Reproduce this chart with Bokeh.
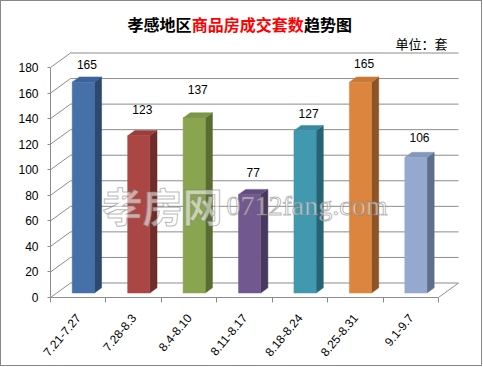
from math import pi
from bokeh.plotting import figure
from bokeh.models import Range1d, FixedTicker, LinearAxis
from bokeh.core.properties import value
from bokeh.embed import file_html
from bokeh.resources import INLINE

# ---------------- data ----------------
periods = ["7.21-7.27", "7.28-8.3", "8.4-8.10", "8.11-8.17", "8.18-8.24", "8.25-8.31", "9.1-9.7"]
deals = [165, 123, 137, 77, 127, 165, 106]
y_ticks = [0, 20, 40, 60, 80, 100, 120, 140, 160, 180]
title_parts = ["孝感地区", "商品房成交套数", "趋势图"]
unit_text = "单位：套"

# ---------------- styling / layout ----------------
front_colors = ["#4570A8", "#AA4744", "#8AA550", "#71588F", "#4199B0", "#DB853E", "#95A9D0"]
side_colors = ["#2C486C", "#6E2C2A", "#596C32", "#48385E", "#286373", "#8E5427", "#5F6E8A"]
top_colors = ["#3C639A", "#9A3E3B", "#7C9647", "#644E80", "#398AA0", "#C97936", "#8497BD"]
label_rise = [17, 24, 26, 21, 17, 18, 19]   # label placement above bar (value units)

PX_CAT = 55.43          # pixels per category
PX_VAL = 230.0 / 180.0  # pixels per value unit
DEPTH_X = 20.0 / PX_CAT  # 3D depth offset, category units
DEPTH_Y = 14.5 / PX_VAL  # 3D depth offset, value units
BAR_HALF = 0.2
BAR_SHIFT = -0.02
D1, D2 = 0.31, 0.67
GRID = "#8C8C8C"

OFF = 1                 # figure offset inside the page (room for the outer border)
W, H = 480, 364
ORIGIN_X, ORIGIN_Y = 50, 297   # page pixel of the front axes corner
LEFT = ORIGIN_X - OFF
BOTTOM = OFF + H - ORIGIN_Y
n = len(periods)
x0 = 0.5
x_end = x0 + (W - LEFT) / PX_CAT
y_end = (ORIGIN_Y - OFF) / PX_VAL

def px_x(px):
    return x0 + (px - ORIGIN_X) / PX_CAT

def px_y(py):
    return (ORIGIN_Y - py) / PX_VAL

p = figure(width=W, height=H, output_backend="svg", toolbar_location=None,
           x_range=Range1d(x0, x_end), y_range=Range1d(0, y_end),
           min_border_left=LEFT, min_border_right=0, min_border_top=0,
           min_border_bottom=BOTTOM, x_axis_location=None, y_axis_location=None)
p.outline_line_color = None
p.xgrid.visible = False
p.ygrid.visible = False
p.background_fill_color = "white"
p.border_fill_color = "white"
p.margin = (OFF, 0, 0, OFF)
p.styles = {"outline": "1px solid #888888", "outline-offset": "0px"}

# ---------------- walls / grid ----------------
xl, xr = x0, x0 + n
gx, gy = [], []
for t in y_ticks:
    gx.append([xl, xl + DEPTH_X, xr + DEPTH_X])
    gy.append([t, t + DEPTH_Y, t + DEPTH_Y])
gx.append([xr, xr + DEPTH_X])
gy.append([0, DEPTH_Y])
p.multi_line(gx, gy, line_color=GRID, line_width=1)

# ---------------- bars ----------------
fx, fy, sx, sy, tx, ty = [], [], [], [], [], []
for i, v in enumerate(deals):
    c = i + 1 + BAR_SHIFT
    a, b = c - BAR_HALF, c + BAR_HALF
    a1, b1, b2, a2 = a + D1 * DEPTH_X, b + D1 * DEPTH_X, b + D2 * DEPTH_X, a + D2 * DEPTH_X
    y1, y2 = D1 * DEPTH_Y, D2 * DEPTH_Y
    fx.append([a1, b1, b1, a1]); fy.append([y1, y1, v + y1, v + y1])
    sx.append([b1, b2, b2, b1]); sy.append([y1, y2, v + y2, v + y1])
    tx.append([a1, b1, b2, a2]); ty.append([v + y1, v + y1, v + y2, v + y2])
p.patches(sx, sy, fill_color=side_colors, line_color=side_colors, line_width=0.5)
p.patches(tx, ty, fill_color=top_colors, line_color=top_colors, line_width=0.5)
p.patches(fx, fy, fill_color=front_colors, line_color=front_colors, line_width=0.5)

# data labels
lx = [i + 1 + BAR_SHIFT + (D1 + D2) / 2 * DEPTH_X for i in range(n)]
ly = [v + r for v, r in zip(deals, label_rise)]
p.text(lx, ly, text=[str(v) for v in deals], text_align="center", text_baseline="middle",
       text_font=value("Liberation Sans"), text_font_size="12px", text_color="black")

# watermark
p.text([px_x(102)], [px_y(204)], text=["孝房网"], text_align="left", text_baseline="middle",
       text_font=value("Noto Sans CJK SC"), text_font_size="40px", text_font_style="bold",
       text_color="white", text_alpha=0.55, text_outline_color="#7A7A7A")
p.text([px_x(226)], [px_y(205)], text=["0712fang.com"], text_align="left", text_baseline="middle",
       text_font=value("Liberation Serif"), text_font_size="28px", text_color="white",
       text_alpha=0.55, text_outline_color="#7A7A7A")

# ---------------- title & unit ----------------
cw = 16
pos = 127
for part, col in zip(title_parts, ["black", "red", "black"]):
    p.text([px_x(pos)], [px_y(23)], text=[part], text_align="left", text_baseline="middle",
           text_font=value("Noto Sans CJK SC"), text_font_size="16px", text_font_style="bold",
           text_color=col)
    pos += cw * len(part) + 0.3
p.text([px_x(447)], [px_y(43)], text=[unit_text], text_align="right", text_baseline="middle",
       text_font=value("Noto Sans CJK SC"), text_font_size="13px", text_color="black")

# ---------------- axes ----------------
yax = LinearAxis(ticker=FixedTicker(ticks=y_ticks), bounds=(0, max(y_ticks)))
yax.axis_line_color = GRID
yax.major_tick_line_color = GRID
yax.major_tick_out = 3
yax.major_tick_in = 0
yax.minor_tick_line_color = None
yax.major_label_standoff = 9
yax.major_label_text_font = "Liberation Sans"
yax.major_label_text_font_size = "12px"
yax.major_label_text_color = "black"
p.add_layout(yax, "left")

xax = LinearAxis(ticker=FixedTicker(ticks=list(range(1, n + 1)),
                                    minor_ticks=[x0 + k for k in range(n + 1)]),
                 bounds=(xl, xr))
xax.major_label_overrides = {i + 1: lab for i, lab in enumerate(periods)}
xax.axis_line_color = GRID
xax.major_tick_line_color = None
xax.major_tick_out = 0
xax.major_tick_in = 0
xax.minor_tick_line_color = GRID
xax.minor_tick_out = 5
xax.minor_tick_in = 0
xax.major_label_orientation = 50 * pi / 180
xax.major_label_standoff = 13
xax.major_label_text_font = "Liberation Sans"
xax.major_label_text_font_size = "12px"
xax.major_label_text_color = "black"
p.add_layout(xax, "below")

open("out.html", "w").write(file_html(p, INLINE))
